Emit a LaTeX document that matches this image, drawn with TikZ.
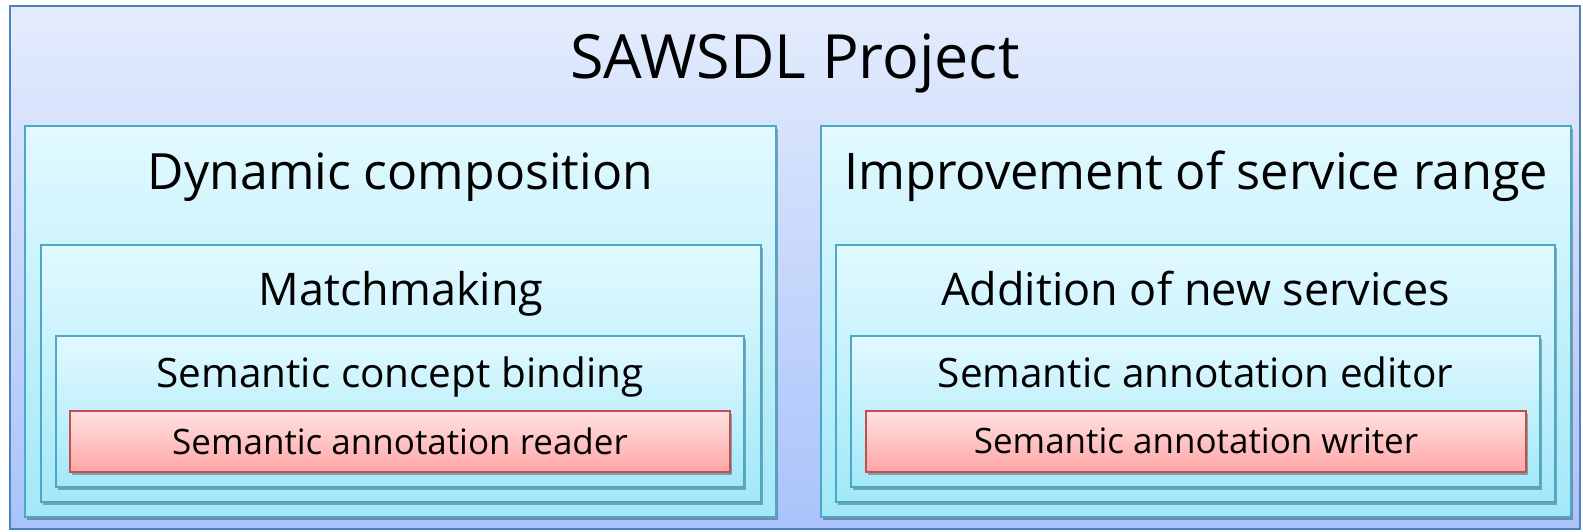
\documentclass[tikz,border=0pt]{standalone}
\usepackage{fontspec}
\setmainfont{Open Sans}
\usetikzlibrary{positioning,shadows}

\definecolor{frameline}{HTML}{4F81BD}
\definecolor{frametop}{HTML}{E4ECFD}
\definecolor{framebottom}{HTML}{A9C3FA}
\definecolor{tierline}{HTML}{4AAAC6}
\definecolor{tiertop}{HTML}{E2F9FF}
\definecolor{tierbottom}{HTML}{A3E8F9}
\definecolor{leafline}{HTML}{C0504D}
\definecolor{leaftop}{HTML}{FFE2E2}
\definecolor{leafbottom}{HTML}{FFA5A5}

\tikzset{
  frame/.style={draw=frameline, line width=2.5pt, top color=frametop, bottom color=framebottom,
    inner sep=0pt, outer sep=0pt},
  tier/.style={draw=tierline, line width=2.5pt, top color=tiertop, bottom color=tierbottom,
    inner sep=0pt, outer sep=0pt,
    drop shadow={shadow xshift=2pt, shadow yshift=-3pt, opacity=0.3, fill=black}},
  leaf/.style={draw=leafline, line width=2.5pt, top color=leaftop, bottom color=leafbottom,
    inner sep=0pt, outer sep=0pt, font=\fontsize{35}{36}\selectfont, text depth=1pt,
    drop shadow={shadow xshift=2pt, shadow yshift=-3pt, opacity=0.3, fill=black}},
  heading/.style={anchor=base, inner sep=0pt, font=\fontsize{#1}{#1}\selectfont},
}

\begin{document}
\begin{tikzpicture}[x=1pt,y=-1pt]
  \useasboundingbox (0,0) rectangle (1583,531);

  % outer frame
  \node[frame, minimum width=1570pt, minimum height=523pt] (project) at (795,267.5) {};
  \node[heading=61] (projtitle) at ([yshift=-72pt]project.north) {SAWSDL Project};

  % left column
  \node[tier, minimum width=751pt, minimum height=391pt] (dyncomp) at (400.5,321.5) {};
  \node[heading=50] (dyntitle) at ([yshift=-63pt]dyncomp.north) {Dynamic composition};

  \node[tier, minimum width=720pt, minimum height=257pt] (match) at (401,373.5) {};
  \node[heading=45] (matchtitle) at ([yshift=-60pt]match.north) {Matchmaking};

  \node[tier, minimum width=688pt, minimum height=151pt] (binding) at (400,411.5) {};
  \node[heading=40.5] (bindtitle) at ([yshift=-51pt]binding.north) {Semantic concept binding};

  \node[leaf, minimum width=660pt, minimum height=61pt] (reader) at (400,441.5) {Semantic annotation reader};

  % right column
  \node[tier, minimum width=750pt, minimum height=391pt] (range) at (1196,321.5) {};
  \node[heading=50.5] (rangetitle) at ([yshift=-63pt]range.north) {Improvement of service range};

  \node[tier, minimum width=719pt, minimum height=257pt] (addition) at (1195.5,373.5) {};
  \node[heading=45] (addtitle) at ([yshift=-60pt]addition.north) {Addition of new services};

  \node[tier, minimum width=689pt, minimum height=151pt] (editor) at (1195.5,411.5) {};
  \node[heading=40.5] (edittitle) at ([yshift=-51pt]editor.north) {Semantic annotation editor};

  \node[leaf, minimum width=660pt, minimum height=61pt] (writer) at (1196,441.5) {Semantic annotation writer};
\end{tikzpicture}
\end{document}
